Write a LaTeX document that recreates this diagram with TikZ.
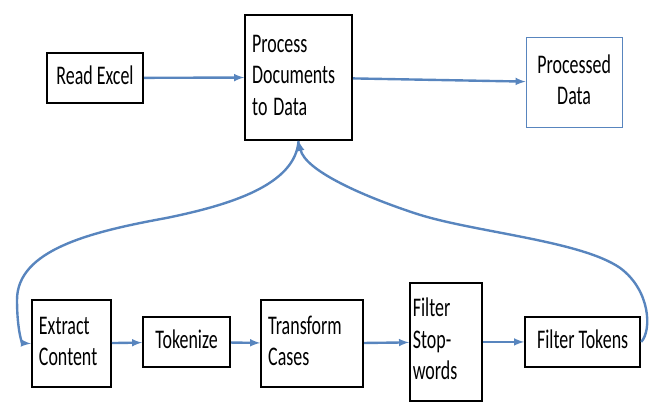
\documentclass[tikz,border=0pt]{standalone}
\usepackage{fontspec}
\setmainfont{Carlito}
\usepackage{graphicx}
\usepackage{tikz}
\usetikzlibrary{arrows,positioning}

\definecolor{flowblue}{RGB}{88,133,190}
\newcommand{\boxlbl}[2][l]{\scalebox{1}[1.5]{\begin{tabular}{@{}#1@{}}#2\end{tabular}}}

\tikzset{
  stage/.style={draw=black, line width=2pt, rectangle, inner sep=0pt,
    font=\fontsize{18}{21}\selectfont},
  leftstage/.style={stage, align=left, inner xsep=0.25cm},
  flow/.style={draw=flowblue, line width=2.4pt, ->}
}

\begin{document}
\begin{tikzpicture}[scale=1.0,>=latex]
  \useasboundingbox (0,0) rectangle (22.89,14.22);
% Top row
  \node[stage, minimum width=3.39cm, minimum height=1.76cm] (readexcel) at (3.35,11.47) {\boxlbl{Read Excel}};
  \node[leftstage, text width=3.27cm, minimum height=4.41cm] (process) at (10.53,11.49) {\boxlbl{Process\\Documents\\to Data}};
  \node[stage, draw=flowblue, line width=1pt, minimum width=3.39cm, minimum height=3.14cm] (processed) at (20.25,11.31) {\boxlbl[c]{Processed\\Data}};
  \draw[flow] (readexcel) -- (process);
  \draw[flow] (process) -- (processed);
% Bottom row
  \node[leftstage, text width=2.29cm, minimum height=3.07cm] (extract) at (2.52,2.10) {\boxlbl{Extract\\Content}};
  \node[stage, minimum width=3.07cm, minimum height=1.76cm] (tokenize) at (6.58,2.16) {\boxlbl{Tokenize}};
  \node[leftstage, text width=3.10cm, minimum height=3.07cm] (transform) at (11.01,2.10) {\boxlbl{Transform\\Cases}};
  \node[leftstage, inner xsep=0.1cm, text width=2.34cm, minimum height=4.16cm] (stopwords) at (15.73,2.16) {\boxlbl{Filter\\Stop-\\words}};
  \node[stage, minimum width=4.06cm, minimum height=1.76cm] (filtertok) at (20.55,2.16) {\boxlbl{Filter Tokens}};
  \draw[flow] (extract) -- (tokenize);
  \draw[flow] (tokenize) -- (transform);
  \draw[flow] (transform) -- (stopwords);
  \draw[flow] (stopwords) -- (filtertok);
%
% Loop curves
  \draw[flow] (process.south) .. controls (10.41,7.69) and (8.11,6.99) .. (5.86,6.53)
    .. controls (3.17,6.04) and (0.60,5.40) .. (0.60,3.64)
    .. controls (0.60,2.58) and (0.78,2.12) .. (extract.west);
  \draw[flow] (filtertok.east) .. controls (23.00,2.58) and (22.93,3.99) .. (21.87,4.77)
    .. controls (20.46,5.75) and (16.58,6.04) .. (14.60,6.71)
    .. controls (12.70,7.34) and (10.76,8.22) .. (process.south);
\end{tikzpicture}
\end{document}
